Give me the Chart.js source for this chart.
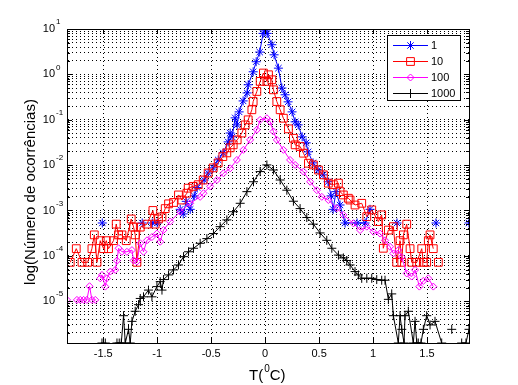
<!DOCTYPE html>
<html>
<head>
<meta charset="utf-8">
<title>log(Número de ocorrências)</title>
<script src="https://cdn.jsdelivr.net/npm/chart.js@4.4.1/dist/chart.umd.min.js"></script>
<style>
  html, body { margin: 0; padding: 0; background: #fff; }
  #wrap { width: 518px; height: 385px; }
</style>
</head>
<body>
<div id="wrap"><canvas id="grafico" width="518" height="385"></canvas></div>
<script>
// eixos
const xTicks = [-1.5, -1, -0.5, 0, 0.5, 1, 1.5];
const yExpoentes = [-5, -4, -3, -2, -1, 0, 1];
const xMin = -1.836, xMax = 1.889;
const yMin = 1.2e-6, yMax = 10;

const nomes = ['1', '10', '100', '1000'];

// série "1" (null = sem ocorrências)
const t1 = [
  -1.509, -1.32, -1.139, -1.09, -1.046, -1.0, -0.89, -0.787, -0.759, -0.731,
  -0.694, -0.657, -0.63, -0.565, -0.528, -0.481, -0.435, -0.389, -0.343, -0.324,
  -0.306, -0.278, -0.259, -0.241, -0.204, -0.167, -0.157, -0.111, -0.083, -0.05,
  -0.019, 0, 0.019, 0.062, 0.083, 0.123, 0.155, 0.185, 0.213, 0.25,
  0.278, 0.306, 0.343, 0.38, 0.398, 0.444, 0.491, 0.537, 0.583, 0.611,
  0.63, 0.657, 0.694, 0.741, 0.852, 0.926, 0.972, 1.1, 1.222, 1.4,
  1.583, 1.75, 1.889
];
const n1 = [
  5.3e-4, null, 5.3e-4, null, 5.3e-4, 5.3e-4, null, 1.06e-3, 8.4e-4, 1.59e-3,
  1.06e-3, 2.1e-3, 3.2e-3, 4.7e-3, 6.7e-3, 8.7e-3, 1.3e-2, 1.86e-2, 3.25e-2, 5.1e-2,
  4.2e-2, 0.11, 0.077, 0.149, 0.26, 0.39, 0.59, 1.14, 1.9, 3.1,
  8.0, 9.5, 8.0, 4.5, 2.7, 1.37, 0.5, 0.355, 0.248, 0.149,
  0.09, 0.077, 0.042, 0.031, 0.0196, 0.0112, 7.8e-3, 6.1e-3, 4.3e-3, 2.1e-3,
  1.06e-3, 2.6e-3, 1.32e-3, 5.3e-4, 5.3e-4, 5.3e-4, 1.06e-3, null, 5.3e-4, null,
  5.3e-4, null, 5.3e-4
];

// série "10"
const t10 = [
  -1.806, -1.75, -1.697, -1.645, -1.605, -1.583, -1.558, -1.528, -1.497, -1.472,
  -1.451, -1.405, -1.38, -1.358, -1.327, -1.287, -1.241, -1.219, -1.204, -1.188,
  -1.157, -1.095, -1.04, -1.019, -0.988, -0.956, -0.926, -0.895, -0.849, -0.803,
  -0.771, -0.725, -0.713, -0.667, -0.62, -0.574, -0.528, -0.481, -0.435, -0.392,
  -0.355, -0.324, -0.296, -0.259, -0.216, -0.185, -0.157, -0.123, -0.111, -0.077,
  -0.046, -0.016, 0.016, 0.031, 0.062, 0.077, 0.108, 0.139, 0.169, 0.216,
  0.262, 0.278, 0.324, 0.355, 0.401, 0.447, 0.494, 0.54, 0.586, 0.632,
  0.679, 0.694, 0.725, 0.771, 0.787, 0.833, 0.895, 0.942, 0.988, 1.049,
  1.08, 1.095, 1.142, 1.188, 1.219, 1.25, 1.266, 1.281, 1.312, 1.343,
  1.358, 1.405, 1.451, 1.466, 1.497, 1.512, 1.528, 1.558, 1.58, 1.605
];
const n10 = [
  7.2e-5, 1.44e-4, 7.2e-5, 7.2e-5, 1.44e-4, 2.9e-4, 7.2e-5, 2.16e-4, 1.44e-4, 2.16e-4,
  1.44e-4, 2.16e-4, 5.0e-4, 2.9e-4, 2.9e-4, 2.16e-4, 6.5e-4, 4.3e-4, 2.9e-4, 7.2e-5,
  4.3e-4, 5.0e-4, 1.0e-3, 5.0e-4, 6.5e-4, 7.2e-4, 1.1e-3, 1.4e-3, 1.5e-3, 2.2e-3,
  1.7e-3, 2.4e-3, 3.1e-3, 3.4e-3, 3.7e-3, 4.7e-3, 6.7e-3, 8.7e-3, 1.12e-2, 1.54e-2,
  1.86e-2, 2.4e-2, 2.8e-2, 3.6e-2, 5.1e-2, 7.7e-2, 0.0996, 0.166, 0.252, 0.42,
  0.70, 1.07, 0.70, 0.98, 0.76, 0.457, 0.252, 0.166, 0.108, 0.063,
  0.039, 0.028, 0.0257, 0.0183, 0.011, 0.0101, 7.8e-3, 6.1e-3, 4.0e-3, 3.7e-3,
  4.0e-3, 2.6e-3, 2.2e-3, 1.86e-3, 1.7e-3, 1.32e-3, 1.44e-3, 7.3e-4, 1.03e-3, 5.7e-4,
  8.0e-4, 1.47e-4, 3.7e-4, 4.4e-4, 7.2e-5, 2.16e-4, 7.2e-5, 2.9e-4, 5.0e-4, 1.44e-4,
  7.2e-5, 7.2e-5, 1.44e-4, 7.2e-5, 7.2e-5, 2.16e-4, 2.9e-4, 1.44e-4, null, 7.2e-5
];

// série "100"
const t100 = [
  -1.836, -1.79, -1.744, -1.713, -1.682, -1.652, -1.627, -1.605, -1.574, -1.55,
  -1.528, -1.512, -1.481, -1.466, -1.435, -1.389, -1.373, -1.358, -1.327, -1.281,
  -1.234, -1.219, -1.188, -1.157, -1.127, -1.095, -1.049, -1.003, -0.972, -0.942,
  -0.88, -0.787, -0.694, -0.602, -0.571, -0.509, -0.447, -0.386, -0.324, -0.262,
  -0.201, -0.139, -0.077, -0.046, 0.016, 0.046, 0.077, 0.108, 0.169, 0.231,
  0.278, 0.355, 0.417, 0.479, 0.525, 0.586, 0.664, 0.725, 0.818, 0.88,
  0.942, 1.003, 1.065, 1.111, 1.157, 1.188, 1.234, 1.266, 1.312, 1.358,
  1.389, 1.429, 1.466, 1.512, 1.558
];
const n100 = [
  1.07e-5, null, 1.07e-5, 1.07e-5, 1.07e-5, 1.07e-5, 2.14e-5, 1.07e-5, 1.07e-5, null,
  3.2e-5, 3.8e-5, 2.1e-5, 3.2e-5, 4.5e-5, 4.9e-5, 7.8e-5, 1.47e-4, 1.23e-4, 1.23e-4,
  1.34e-4, 7.9e-5, 7.5e-5, 1.89e-4, 1.23e-4, 2.2e-4, 2.6e-4, 3.1e-4, 2.05e-4, 3.7e-4,
  5.7e-4, 9.4e-4, 1.44e-3, 2.0e-3, 2.4e-3, 3.4e-3, 4.7e-3, 6.6e-3, 8.5e-3, 1.3e-2,
  2.17e-2, 3.6e-2, 6.0e-2, 0.0996, 0.108, 0.091, 0.055, 0.036, 0.0217, 0.013,
  0.0101, 7.2e-3, 4.3e-3, 2.8e-3, 2.0e-3, 1.7e-3, 1.12e-3, 8.0e-4, 5.2e-4, 3.7e-4,
  4.4e-4, 3.4e-4, 3.1e-4, 2.2e-4, 1.59e-4, 1.13e-4, 1.34e-4, 9.4e-5, 4.1e-5, 3.5e-5,
  4.9e-5, 2.1e-5, 2.8e-5, 3.2e-5, 2.1e-5
];

// série "1000"
const t1000 = [
  -1.512, -1.497, -1.481, -1.43, -1.373, -1.352, -1.333, -1.312, -1.296, -1.266,
  -1.25, -1.234, -1.204, -1.173, -1.157, -1.127, -1.081, -1.049, -1.003, -0.972,
  -0.956, -0.942, -0.895, -0.849, -0.803, -0.756, -0.71, -0.664, -0.602, -0.54,
  -0.479, -0.417, -0.355, -0.293, -0.231, -0.169, -0.108, -0.046, 0.016, 0.077,
  0.139, 0.201, 0.262, 0.324, 0.386, 0.447, 0.509, 0.571, 0.618, 0.679,
  0.725, 0.756, 0.787, 0.833, 0.864, 0.895, 0.942, 0.988, 1.034, 1.08,
  1.111, 1.142, 1.173, 1.188, 1.234, 1.25, 1.266, 1.287, 1.296, 1.327,
  1.373, 1.389, 1.405, 1.419, 1.444, 1.466, 1.497, 1.528, 1.574, 1.636,
  1.68, 1.729, 1.78, 1.821, 1.861, 1.889
];
const n1000 = [
  1.2e-6, null, 1.2e-6, null, 1.2e-6, 1.2e-6, 1.2e-6, 4.8e-6, 1.2e-6, 2.4e-6,
  1.2e-6, 3.6e-6, 6.0e-6, 8.4e-6, 1.15e-5, 1.25e-5, 1.76e-5, 1.25e-5, 2.1e-5, 2.7e-5,
  1.76e-5, 3.0e-5, 3.8e-5, 4.9e-5, 6.3e-5, 9.6e-5, 1.23e-4, 1.47e-4, 1.89e-4, 2.4e-4,
  3.1e-4, 4.4e-4, 6.2e-4, 9.4e-4, 1.44e-3, 2.6e-3, 4.3e-3, 7.2e-3, 1.01e-2, 7.8e-3,
  4.7e-3, 2.8e-3, 1.6e-3, 1.1e-3, 7.0e-4, 5.0e-4, 3.2e-4, 2.2e-4, 1.47e-4, 1.04e-4,
  9.0e-5, 7.9e-5, 6.3e-5, 4.5e-5, 3.8e-5, 3.2e-5, 3.2e-5, 3.2e-5, 3.0e-5, 2.9e-5,
  2.9e-5, 1.1e-5, 1.45e-5, 4.8e-6, 1.2e-6, 4.8e-6, 2.4e-6, 1.2e-6, 4.8e-6, 6.0e-6,
  1.2e-6, 3.6e-6, 1.2e-6, 1.2e-6, 1.2e-6, 2.4e-6, 4.8e-6, 3.0e-6, 3.6e-6, 1.2e-6,
  null, 2.4e-6, null, 1.2e-6, 1.2e-6, 2.4e-6
];

const FONTE = '"Liberation Sans", Arial, Helvetica, sans-serif';
const cores = ['#0000ff', '#ff0000', '#ff00ff', '#000000'];
const marcas = ['star', 'rect', 'rectRot', 'cross'];
const raios = [4.5, 5.5, 3.5, 4.5];

function serie(i, xs, ys) {
    return {
        label: nomes[i],
        data: xs.map((v, k) => ({ x: v, y: ys[k] })),
        borderColor: cores[i],
        backgroundColor: 'rgba(0,0,0,0)',
        borderWidth: 1,
        pointStyle: marcas[i],
        pointRadius: raios[i],
        pointHoverRadius: raios[i],
        pointBorderColor: cores[i],
        pointBackgroundColor: 'rgba(0,0,0,0)',
        pointBorderWidth: 1,
        tension: 0,
        spanGaps: false,
        fill: false,
        order: 4 - i // série "1" desenhada primeiro, "1000" por cima
    };
}

// marcador no estilo MATLAB (para a legenda)
function marcador(ctx, estilo, x, y, r) {
    ctx.beginPath();
    if (estilo === 'star' || estilo === 'cross') {
        ctx.moveTo(x - r, y); ctx.lineTo(x + r, y);
        ctx.moveTo(x, y - r); ctx.lineTo(x, y + r);
        if (estilo === 'star') {
            const d = r * Math.SQRT1_2;
            ctx.moveTo(x - d, y - d); ctx.lineTo(x + d, y + d);
            ctx.moveTo(x - d, y + d); ctx.lineTo(x + d, y - d);
        }
    } else if (estilo === 'rect') {
        const s = r * Math.SQRT1_2;
        ctx.rect(x - s, y - s, 2 * s, 2 * s);
    } else {
        ctx.moveTo(x - r, y); ctx.lineTo(x, y - r);
        ctx.lineTo(x + r, y); ctx.lineTo(x, y + r);
        ctx.closePath();
    }
    ctx.stroke();
}

const moldura = {
    id: 'moldura',
    beforeDraw(chart) {
        const ctx = chart.ctx;
        ctx.save();
        ctx.fillStyle = '#fff';
        ctx.fillRect(0, 0, chart.width, chart.height);
        ctx.restore();
    },
    afterDatasetsDraw(chart) {
        const { ctx, chartArea: a, scales: { x, y } } = chart;
        ctx.save();
        ctx.strokeStyle = '#000';
        ctx.fillStyle = '#000';
        ctx.lineWidth = 1;
        ctx.setLineDash([]);

        // caixa
        ctx.strokeRect(a.left + 0.5, a.top + 0.5, a.right - a.left, a.bottom - a.top);

        // marcas dos eixos (para dentro)
        ctx.beginPath();
        xTicks.forEach(v => {
            const px = Math.round(x.getPixelForValue(v)) + 0.5;
            ctx.moveTo(px, a.bottom); ctx.lineTo(px, a.bottom - 5);
            ctx.moveTo(px, a.top); ctx.lineTo(px, a.top + 5);
        });
        y.ticks.forEach(t => {
            const py = Math.round(y.getPixelForValue(t.value)) + 0.5;
            const len = t.major ? 5 : 3;
            ctx.moveTo(a.left, py); ctx.lineTo(a.left + len, py);
            ctx.moveTo(a.right, py); ctx.lineTo(a.right - len, py);
        });
        ctx.stroke();

        // rótulos do eixo y: 10^n
        yExpoentes.forEach(e => {
            const py = y.getPixelForValue(Math.pow(10, e));
            ctx.font = '11px ' + FONTE;
            ctx.textAlign = 'right';
            ctx.textBaseline = 'middle';
            ctx.fillText('10', 55, py);
            ctx.font = '8px ' + FONTE;
            ctx.textAlign = 'left';
            ctx.fillText(String(e), 56, py - 7);
        });

        // título do eixo y
        ctx.save();
        ctx.translate(31, 192);
        ctx.rotate(-Math.PI / 2);
        ctx.font = '15px ' + FONTE;
        ctx.textAlign = 'center';
        ctx.textBaseline = 'middle';
        ctx.fillText('log(Número de ocorrências)', 0, 0);
        ctx.restore();

        // título do eixo x: T(ºC) com o 0 sobrescrito
        ctx.textAlign = 'left';
        ctx.textBaseline = 'alphabetic';
        ctx.font = '15px ' + FONTE;
        let cx = 249;
        ctx.fillText('T(', cx, 380);
        cx += ctx.measureText('T(').width + 1;
        ctx.font = '10px ' + FONTE;
        ctx.fillText('0', cx, 372);
        cx += ctx.measureText('0').width;
        ctx.font = '15px ' + FONTE;
        ctx.fillText('C)', cx, 380);

        // legenda
        const lx = 387.5, ly = 35.5, lw = 73, lh = 65;
        ctx.fillStyle = '#fff';
        ctx.fillRect(lx, ly, lw, lh);
        ctx.strokeRect(lx, ly, lw, lh);
        ctx.font = '11px ' + FONTE;
        ctx.textBaseline = 'middle';
        nomes.forEach((nome, i) => {
            const ry = Math.round(45 + i * 16) + 0.5;
            ctx.strokeStyle = cores[i];
            ctx.beginPath();
            ctx.moveTo(393, ry); ctx.lineTo(428, ry);
            ctx.stroke();
            marcador(ctx, marcas[i], 410.5, ry, raios[i]);
            ctx.fillStyle = '#000';
            ctx.fillText(nome, 431, ry);
        });
        ctx.restore();
    }
};

const ctx = document.getElementById('grafico').getContext('2d');
new Chart(ctx, {
    type: 'line',
    data: {
        datasets: [
            serie(0, t1, n1),
            serie(1, t10, n10),
            serie(2, t100, n100),
            serie(3, t1000, n1000)
        ]
    },
    options: {
        responsive: false,
        devicePixelRatio: 1,
        animation: false,
        events: [],
        layout: { padding: { top: 29, right: 49, left: 0, bottom: 0 } },
        plugins: {
            legend: { display: false },
            tooltip: { enabled: false },
            title: { display: false }
        },
        scales: {
            x: {
                type: 'linear',
                min: xMin,
                max: xMax,
                afterBuildTicks: scale => {
                    scale.ticks = xTicks.map(v => ({ value: v }));
                },
                afterFit: scale => { scale.height = 42; },
                grid: { color: '#000', lineWidth: 1, drawTicks: false },
                border: { display: true, color: '#000', width: 1, dash: [1, 3] },
                ticks: {
                    color: '#000',
                    font: { family: FONTE, size: 11 },
                    padding: 4,
                    autoSkip: false,
                    maxRotation: 0,
                    callback: v => String(v)
                }
            },
            y: {
                type: 'logarithmic',
                min: yMin,
                max: yMax,
                afterBuildTicks: scale => {
                    const ticks = [];
                    for (let e = -6; e <= 1; e++) {
                        for (let k = 1; k <= 9; k++) {
                            const v = +(k * Math.pow(10, e)).toPrecision(3);
                            if (v >= yMin && v <= yMax) ticks.push({ value: v, major: k === 1 });
                        }
                    }
                    scale.ticks = ticks;
                },
                afterFit: scale => { scale.width = 67; },
                grid: { color: '#000', lineWidth: 1, drawTicks: false },
                border: { display: true, color: '#000', width: 1, dash: [1, 3] },
                ticks: { display: false }
            }
        }
    },
    plugins: [moldura]
});
</script>
</body>
</html>
